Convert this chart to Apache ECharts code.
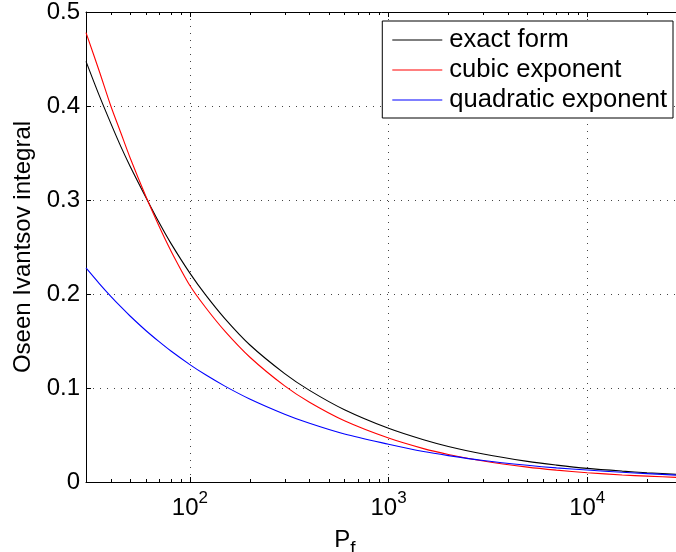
<!DOCTYPE html>
<html><head><meta charset="utf-8">
<script src="https://cdn.jsdelivr.net/npm/echarts@6/dist/echarts.min.js"></script>
<style>html,body{margin:0;padding:0;background:#fff}#c{width:676px;height:552px}</style>
</head><body><div id="c"></div>
<script>
// Peclet number P_f (x values, log axis)
const pf = [30, 35, 40, 45, 50, 60, 70, 80, 100, 120, 150, 200, 300, 400, 600, 1000, 1500, 2000, 3000, 5000, 7000, 10000, 15000, 20000, 30000];
const exactForm = [0.4475, 0.411, 0.3815, 0.3565, 0.336, 0.303, 0.276, 0.2544, 0.2222, 0.199, 0.1738, 0.146, 0.1153, 0.0975, 0.0769, 0.0571, 0.0449, 0.0378, 0.0297, 0.0219, 0.0180, 0.0145, 0.0116, 0.0099, 0.0079];
const cubicExponent = [0.478, 0.437, 0.400, 0.371, 0.345, 0.304, 0.272, 0.2465, 0.209, 0.1856, 0.1605, 0.133, 0.1022, 0.0848, 0.0651, 0.0467, 0.0355, 0.0293, 0.0223, 0.0158, 0.0126, 0.0099, 0.0075, 0.0062, 0.0047];
const quadraticExponent = [0.2277, 0.2111, 0.1975, 0.1862, 0.1766, 0.1612, 0.1493, 0.1396, 0.1249, 0.114, 0.102, 0.0883, 0.0721, 0.0624, 0.051, 0.0402, 0.0324, 0.0281, 0.0229, 0.0178, 0.0150, 0.0127, 0.0103, 0.0089, 0.0070];
const seriesNames = ['exact form', 'cubic exponent', 'quadratic exponent'];
const minorTickValues = [40, 50, 60, 70, 80, 90, 200, 300, 400, 500, 600, 700, 800, 900, 2000, 3000, 4000, 5000, 6000, 7000, 8000, 9000, 20000];

const FONT = '"Liberation Sans", Arial, Helvetica, sans-serif';
const pair = arr => pf.map((x, i) => [x, arr[i]]);

function powLabel(v) {
  const e = Math.round(Math.log10(v));
  if (Math.abs(v - Math.pow(10, e)) > 1e-6 * v) return '';
  return '{b|10}{s|' + e + '}';
}

const gridLine = { show: true, showMinLine: false, showMaxLine: false, lineStyle: { color: '#444', type: [1, 6], width: 1 } };
const axisLineStyle = { show: true, lineStyle: { color: '#000', width: 1 } };

const chart = echarts.init(document.getElementById('c'), null, { renderer: 'canvas' });
chart.setOption({
  animation: false,
  backgroundColor: '#fff',
  grid: { left: 86, top: 12, right: -6, bottom: 70, containLabel: false, outerBoundsMode: 'none' },
  legend: {
    orient: 'vertical', right: 3, top: 21,
    data: seriesNames,
    icon: 'rect',
    itemWidth: 50, itemHeight: 1, itemGap: 2,
    padding: [5, 6, 4, 10],
    borderColor: '#000', borderWidth: 1, backgroundColor: '#fff',
    textStyle: { fontSize: 25.6, fontFamily: FONT, color: '#000', lineHeight: 28, padding: [0, 0, 0, 2] }
  },
  xAxis: [{
    type: 'log', logBase: 10, min: 30, max: 30000, position: 'bottom',
    axisLine: axisLineStyle,
    axisTick: { show: true, inside: true, length: 5, lineStyle: { color: '#000' } },
    axisLabel: {
      formatter: powLabel, margin: 8,
      rich: {
        b: { fontSize: 24, fontFamily: FONT, color: '#000', verticalAlign: 'bottom', lineHeight: 30 },
        s: { fontSize: 17, fontFamily: FONT, color: '#000', verticalAlign: 'top', lineHeight: 18 }
      }
    },
    splitLine: gridLine,
    name: '{p|P}{s|f}', nameLocation: 'middle', nameGap: 27,
    nameTextStyle: {
      padding: [0, 78, 0, 0],
      rich: {
        p: { fontSize: 24, fontFamily: FONT, color: '#000', verticalAlign: 'top', lineHeight: 30 },
        s: { fontSize: 19, fontFamily: FONT, color: '#000', verticalAlign: 'bottom', lineHeight: 20, padding: [14, 0, 0, 0] }
      }
    }
  }, {
    type: 'log', logBase: 10, min: 30, max: 30000, position: 'top',
    axisLine: axisLineStyle,
    axisTick: { show: true, inside: true, length: 5, lineStyle: { color: '#000' } },
    axisLabel: { show: false },
    splitLine: { show: false }
  }],
  yAxis: [{
    type: 'value', min: 0, max: 0.5, interval: 0.1,
    axisLine: axisLineStyle,
    axisTick: { show: true, inside: true, length: 5, lineStyle: { color: '#000' } },
    axisLabel: { fontSize: 24, fontFamily: FONT, color: '#000', margin: 6, formatter: v => v === 0 ? '0' : v.toFixed(1) },
    splitLine: gridLine,
    name: 'Oseen Ivantsov integral', nameLocation: 'middle', nameGap: 48,
    nameTextStyle: { fontSize: 24, fontFamily: FONT, color: '#000' }
  }],
  series: [
    { name: seriesNames[0], type: 'line', data: pair(exactForm), symbol: 'none', smooth: 0.3, color: '#000', lineStyle: { width: 1.1, color: '#000' }, emphasis: { disabled: true }, z: 3 },
    { name: seriesNames[1], type: 'line', data: pair(cubicExponent), symbol: 'none', smooth: 0.3, color: '#ff0000', lineStyle: { width: 1.1, color: '#ff0000' }, emphasis: { disabled: true }, z: 3 },
    { name: seriesNames[2], type: 'line', data: pair(quadraticExponent), symbol: 'none', smooth: 0.3, color: '#0000ff', lineStyle: { width: 1.1, color: '#0000ff' }, emphasis: { disabled: true }, z: 3 },
    {
      name: 'minorTicks', type: 'custom', silent: true, clip: false, z: 4,
      data: minorTickValues.map(v => [v, 0]),
      encode: { x: 0, y: 1 },
      renderItem: function (params, api) {
        const pb = api.coord([api.value(0), 0]);
        const pt = api.coord([api.value(0), 0.5]);
        const x = Math.round(pb[0]) + 0.5;
        return {
          type: 'group', children: [
            { type: 'line', shape: { x1: x, y1: pb[1], x2: x, y2: pb[1] - 3 }, style: { stroke: '#000', lineWidth: 1 } },
            { type: 'line', shape: { x1: x, y1: pt[1], x2: x, y2: pt[1] + 3 }, style: { stroke: '#000', lineWidth: 1 } }
          ]
        };
      }
    }
  ]
});
</script>
</body></html>
